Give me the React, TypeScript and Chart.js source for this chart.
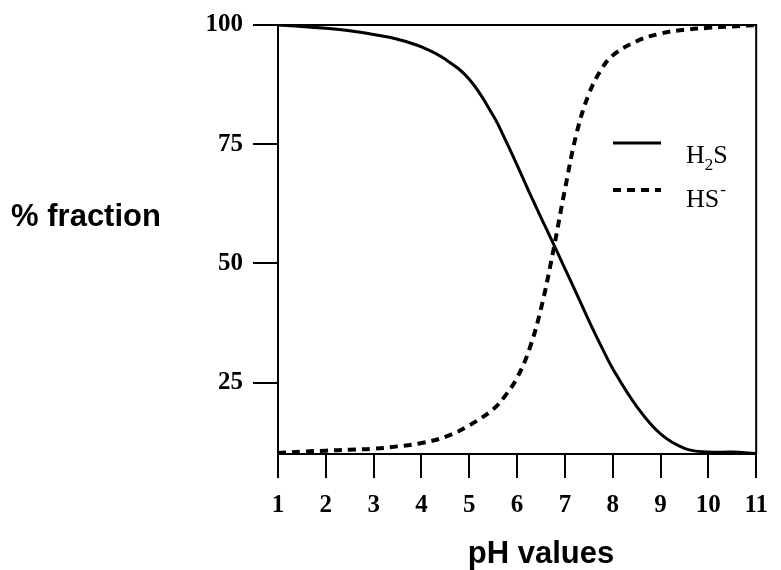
import React, { useEffect, useRef } from "react";
import { Chart, registerables } from "chart.js";

Chart.register(...registerables);

const phValues = [1, 1.5, 2, 2.5, 3, 3.5, 4, 4.5, 5, 5.5, 5.75, 6, 6.25, 6.5, 6.75, 7, 7.25, 7.5, 7.75, 8, 8.5, 9, 9.5, 10, 10.5, 11];
const h2sValues = [100, 99.7, 99.3, 98.8, 98.0, 97.0, 95.4, 92.8, 88.6, 81.0, 76.0, 70.6, 65.0, 59.6, 54.3, 48.9, 43.5, 38.0, 32.8, 27.9, 20.0, 14.2, 11.2, 10.4, 10.4, 10.1];
const hsValues = [10.2, 10.5, 10.7, 10.9, 11.1, 11.6, 12.3, 13.6, 16.0, 19.4, 22.2, 26.0, 31.8, 40.5, 52.3, 65.5, 77.5, 85.5, 90.5, 93.6, 96.6, 98.2, 99.0, 99.4, 99.7, 100];
const yTickValues = [25, 50, 75, 100];
const xTickValues = [1, 2, 3, 4, 5, 6, 7, 8, 9, 10, 11];
const xTitle = "pH values";
const yTitle = "% fraction";

const SERIF = "'Liberation Serif', 'Times New Roman', serif";
const SANS = "'Liberation Sans', Arial, sans-serif";

const framePlugin = {
  id: "frame",
  afterDatasetsDraw(chart: any) {
    const { ctx, chartArea } = chart;
    ctx.save();
    ctx.strokeStyle = "#000";
    ctx.lineWidth = 2;
    ctx.beginPath();
    ctx.moveTo(chartArea.left, chartArea.top);
    ctx.lineTo(chartArea.right, chartArea.top);
    ctx.lineTo(chartArea.right, chartArea.bottom);
    ctx.stroke();
    ctx.restore();
  },
  afterDraw(chart: any) {
    const { ctx } = chart;
    ctx.save();
    ctx.fillStyle = "#000";
    ctx.font = `bold 31px ${SANS}`;
    ctx.textAlign = "center";
    ctx.textBaseline = "middle";
    ctx.fillText(yTitle, 86, 217);
    ctx.fillText(xTitle, 541, 554);

    // legend
    const x0 = 613;
    const x1 = 661;
    ctx.strokeStyle = "#000";
    ctx.lineWidth = 3;
    ctx.setLineDash([]);
    ctx.beginPath();
    ctx.moveTo(x0, 143);
    ctx.lineTo(x1, 143);
    ctx.stroke();
    ctx.lineWidth = 4;
    ctx.setLineDash([8, 6]);
    ctx.beginPath();
    ctx.moveTo(x0, 190);
    ctx.lineTo(x1, 190);
    ctx.stroke();
    ctx.setLineDash([]);

    ctx.textAlign = "left";
    ctx.textBaseline = "alphabetic";
    const big = `26px ${SERIF}`;
    const small = `17px ${SERIF}`;
    let tx = 686;
    ctx.font = big;
    ctx.fillText("H", tx, 163);
    tx += ctx.measureText("H").width;
    ctx.font = small;
    ctx.fillText("2", tx, 170);
    tx += ctx.measureText("2").width;
    ctx.font = big;
    ctx.fillText("S", tx, 163);

    tx = 686;
    ctx.font = big;
    ctx.fillText("HS", tx, 207);
    tx += ctx.measureText("HS").width;
    ctx.font = small;
    ctx.fillText("-", tx + 1, 195);
    ctx.restore();
  },
};

export default function App() {
  const ref = useRef<HTMLCanvasElement | null>(null);
  useEffect(() => {
    if (!ref.current) return;
    const chart = new Chart(ref.current, {
      type: "line",
      data: {
        datasets: [
          {
            label: "H2S",
            data: phValues.map((x, i) => ({ x, y: h2sValues[i] })),
            borderColor: "#000",
            borderWidth: 3,
            pointRadius: 0,
            tension: 0.4,
            fill: false,
          },
          {
            label: "HS-",
            data: phValues.map((x, i) => ({ x, y: hsValues[i] })),
            borderColor: "#000",
            borderWidth: 4,
            borderDash: [8, 6],
            pointRadius: 0,
            tension: 0.4,
            fill: false,
          },
        ],
      },
      options: {
        responsive: false,
        animation: false,
        layout: { padding: { top: 22, right: 24, left: 0, bottom: 0 }, autoPadding: false },
        plugins: { legend: { display: false }, tooltip: { enabled: false }, title: { display: false } },
        scales: {
          x: {
            type: "linear",
            min: 1,
            max: 11,
            afterBuildTicks: (s: any) => {
              s.ticks = xTickValues.map((v) => ({ value: v }));
            },
            afterFit: (s: any) => {
              s.height = 116;
            },
            grid: { drawOnChartArea: false, drawTicks: true, tickLength: 24, color: "#000", lineWidth: 2 },
            border: { display: true, color: "#000", width: 2 },
            ticks: {
              autoSkip: false,
              maxRotation: 0,
              padding: 13,
              color: "#000",
              font: { family: SERIF, size: 25, weight: "bold" },
            },
          },
          y: {
            type: "linear",
            min: 10,
            max: 100,
            afterBuildTicks: (s: any) => {
              s.ticks = yTickValues.map((v) => ({ value: v }));
            },
            afterFit: (s: any) => {
              s.width = 278;
            },
            grid: { drawOnChartArea: false, drawTicks: true, tickLength: 25, color: "#000", lineWidth: 2 },
            border: { display: true, color: "#000", width: 2 },
            ticks: {
              padding: 10,
              color: "#000",
              font: { family: SERIF, size: 25, weight: "bold" },
            },
          },
        },
      },
      plugins: [framePlugin],
    } as any);
    return () => chart.destroy();
  }, []);
  return (
    <div style={{ position: "fixed", left: 0, top: 0, width: 781, height: 570, background: "#fff" }}>
      <canvas ref={ref} width={781} height={570} style={{ width: 781, height: 570, display: "block" }} />
    </div>
  );
}
